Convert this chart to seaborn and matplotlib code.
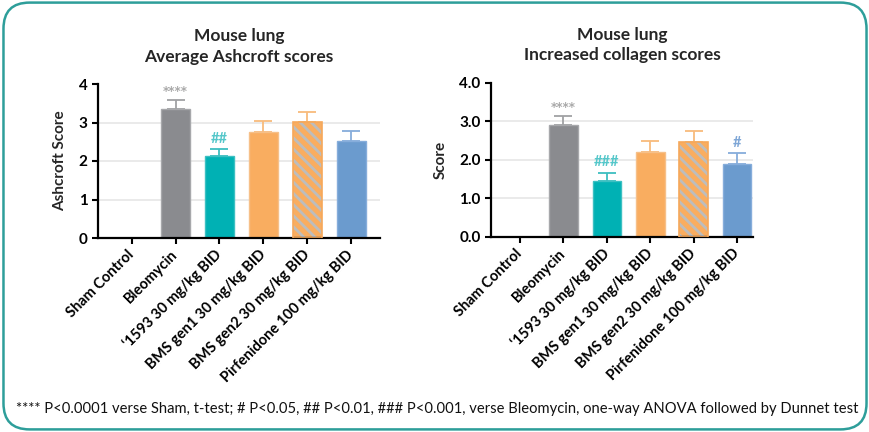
import matplotlib
matplotlib.use("Agg")
import matplotlib.pyplot as plt
import seaborn as sns
import pandas as pd
from matplotlib.patches import FancyBboxPatch

categories = ["Sham Control", "Bleomycin", "\u20181593 30 mg/kg BID",
              "BMS gen1 30 mg/kg BID", "BMS gen2 30 mg/kg BID",
              "Pirfenidone 100 mg/kg BID"]
ashcroft_mean = [0.0, 3.34, 2.13, 2.75, 3.01, 2.53]
ashcroft_err = [0.0, 0.24, 0.18, 0.28, 0.27, 0.26]
collagen_mean = [0.0, 2.90, 1.45, 2.21, 2.46, 1.90]
collagen_err = [0.0, 0.23, 0.21, 0.28, 0.28, 0.27]
ashcroft_marks = ["", "****", "##", "", "", ""]
collagen_marks = ["", "****", "###", "", "", "#"]
ashcroft_ticks = [0, 1, 2, 3, 4]
collagen_ticks = [0.0, 1.0, 2.0, 3.0, 4.0]
titles = ["Mouse lung\nAverage Ashcroft scores", "Mouse lung\nIncreased collagen scores"]
ylabels = ["Ashcroft Score", "Score"]
footnote = ("**** P<0.0001 verse Sham, t-test; # P<0.05, ## P<0.01, ### P<0.001, "
            "verse Bleomycin, one-way ANOVA followed by Dunnet test")

bar_colors = ["#ffffff", "#8a8b8f", "#00b1b4", "#f9ad60", "#f9ad60", "#6b9bce"]
edge_colors = ["#ffffff", "#a7a8ab", "#3cc0c2", "#f6c089", "#f6a85a", "#86addb"]
err_colors = ["#ffffff", "#a0a1a4", "#3dbec0", "#f8bb7c", "#f8bb7c", "#86addb"]
mark_colors = ["#ffffff", "#a9a9a9", "#55c7ca", "#f9ad60", "#f9ad60", "#7ea6d6"]

sns.set_style("white")
plt.rcParams["font.family"] = ["Lato", "DejaVu Sans"]
plt.rcParams["hatch.linewidth"] = 2.0

fig = plt.figure(figsize=(8.7, 4.32), dpi=100)

border = FancyBboxPatch((0.004, 0.006), 0.992, 0.988,
                        boxstyle="round,pad=0,rounding_size=0.03",
                        transform=fig.transFigure, fill=False,
                        edgecolor="#2e9e9a", linewidth=1.8, mutation_aspect=870/432)
fig.patches.append(border)

ax_specs = [
    dict(rect=[98/870, 1-238/432, 282/870, 154/432], xlim=(-0.77, 5.66),
         mean=ashcroft_mean, err=ashcroft_err, marks=ashcroft_marks,
         ticks=ashcroft_ticks, fmt="{:.0f}"),
    dict(rect=[491/870, 1-236.7/432, 262/870, 154/432], xlim=(-0.67, 5.37),
         mean=collagen_mean, err=collagen_err, marks=collagen_marks,
         ticks=collagen_ticks, fmt="{:.1f}"),
]

for i, spec in enumerate(ax_specs):
    ax = fig.add_axes(spec["rect"])
    df = pd.DataFrame({"group": categories, "value": spec["mean"]})
    sns.barplot(data=df, x="group", y="value", hue="group", order=categories,
                hue_order=categories, palette=bar_colors, legend=False,
                errorbar=None, width=0.66, saturation=1, ax=ax, zorder=2)
    for j, p in enumerate(ax.patches):
        p.set_edgecolor(edge_colors[j])
        p.set_linewidth(1.0)
        if j == 4:
            p.set_hatch("\\\\\\")
            p.set_edgecolor("#bdbdbd")
            p.set_linewidth(0)
    ax.bar([4], [spec["mean"][4]], width=0.66, fill=False,
           edgecolor=edge_colors[4], linewidth=1.2, zorder=3)
    for j in range(1, len(categories)):
        ax.errorbar(j, spec["mean"][j], yerr=[[0], [spec["err"][j]]], fmt="none",
                    ecolor=err_colors[j], elinewidth=1.3, capsize=6.5,
                    capthick=1.3, zorder=1.5)
        mark = spec["marks"][j]
        if mark:
            is_star = mark.startswith("*")
            ax.annotate(mark, (j, spec["mean"][j] + spec["err"][j]),
                        xytext=(0, 1.5 if is_star else 2.5),
                        textcoords="offset points",
                        ha="center", va="bottom",
                        fontsize=8.5 if is_star else 10.5,
                        family=["DejaVu Sans"] if is_star else ["Lato", "DejaVu Sans"],
                        color=mark_colors[j], fontweight="bold")
    ax.set_xlim(*spec["xlim"])
    ax.set_ylim(0, 4)
    ax.set_yticks(spec["ticks"])
    ax.set_yticklabels([spec["fmt"].format(t) for t in spec["ticks"]],
                       fontsize=11, fontweight="bold")
    ax.set_xticks(range(len(categories)))
    ax.set_xticklabels(categories, rotation=45, ha="right", va="center",
                       rotation_mode="anchor", fontsize=10.5, fontweight="bold")
    ax.set_xlabel("")
    ax.set_ylabel(ylabels[i], fontsize=11, fontweight="bold", labelpad=8)
    for y in spec["ticks"][1:-1]:
        ax.axhline(y, color="#e6e6e6", linewidth=1.2, zorder=0)
    sns.despine(ax=ax)
    ax.spines["left"].set_linewidth(1.6)
    ax.spines["bottom"].set_linewidth(1.6)
    ax.spines["left"].set_color("black")
    ax.spines["bottom"].set_color("black")
    ax.tick_params(axis="both", direction="out", length=4.5, width=1.5,
                   color="black", labelcolor="black", pad=3,
                   left=True, bottom=True)
    ax.tick_params(axis="x", pad=6)
    ax.set_title(titles[i], fontsize=12.5, fontweight="bold", pad=16, linespacing=1.35)

fig.text(16/870, 1-409/432, footnote, fontsize=10.6, va="center", ha="left",
         color="#111111")

fig.savefig("out.png", dpi=100)
